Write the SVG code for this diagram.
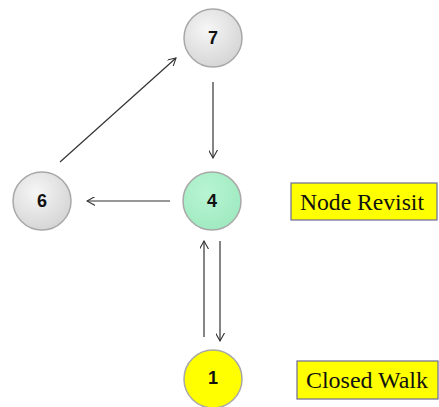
<svg xmlns="http://www.w3.org/2000/svg" width="439" height="407" viewBox="0 0 439 407">
  <style>
    .edge { stroke: #333; stroke-width: 1.2; fill: none; marker-end: url(#arrow); }
    .node { stroke: #a8a8a8; stroke-width: 1.5; }
    .num { font-family: "Liberation Sans", Arial, sans-serif; font-weight: bold; font-size: 18px; fill: #111; text-anchor: middle; }
    .tag { fill: #ffff00; stroke: #6a6a9a; stroke-width: 1.2; }
    .tagtext { font-family: "Liberation Serif", "Times New Roman", "DejaVu Serif", serif; font-size: 24px; fill: #111; }
  </style>
  <defs>
    <radialGradient id="grey" cx="0.4" cy="0.35" r="0.7">
      <stop offset="0" stop-color="#f6f6f6"/>
      <stop offset="1" stop-color="#d4d4d4"/>
    </radialGradient>
    <radialGradient id="green" cx="0.4" cy="0.35" r="0.7">
      <stop offset="0" stop-color="#b8f5d2"/>
      <stop offset="1" stop-color="#9ee9c0"/>
    </radialGradient>
    <marker id="arrow" viewBox="0 0 10 10" refX="9" refY="5" markerWidth="9" markerHeight="9" markerUnits="userSpaceOnUse" orient="auto">
      <path d="M0,0 L9,5 L0,10" fill="none" stroke="#333" stroke-width="1.2"/>
    </marker>
  </defs>

  <g id="connectors">
    <line class="edge" x1="213" y1="82" x2="213" y2="158"/>
    <line class="edge" x1="170" y1="201" x2="87" y2="201"/>
    <line class="edge" x1="60" y1="162" x2="176" y2="58"/>
    <line class="edge" x1="204" y1="337" x2="204" y2="241"/>
    <line class="edge" x1="220" y1="241" x2="220" y2="341"/>
  </g>

  <g id="node-7">
    <circle class="node" cx="213" cy="38" r="29" fill="url(#grey)"/>
    <text class="num" x="213" y="44">7</text>
  </g>
  <g id="node-6">
    <circle class="node" cx="42" cy="201" r="29" fill="url(#grey)"/>
    <text class="num" x="42" y="207">6</text>
  </g>
  <g id="node-4">
    <circle class="node" cx="212" cy="201" r="29" fill="url(#green)" stroke="#8fcfae"/>
    <text class="num" x="212" y="207">4</text>
  </g>
  <g id="node-1">
    <circle class="node" cx="213" cy="379" r="29" fill="#ffff00" stroke="#b8b040"/>
    <text class="num" x="213" y="384" font-size="14">1</text>
  </g>

  <g id="label-node-revisit">
    <rect class="tag" x="291" y="183" width="146" height="37"/>
    <text class="tagtext" x="300" y="210" textLength="124" lengthAdjust="spacingAndGlyphs">Node Revisit</text>
  </g>
  <g id="label-closed-walk">
    <rect class="tag" x="297" y="361" width="141" height="38"/>
    <text class="tagtext" x="306" y="388" textLength="122" lengthAdjust="spacingAndGlyphs">Closed Walk</text>
  </g>
</svg>
